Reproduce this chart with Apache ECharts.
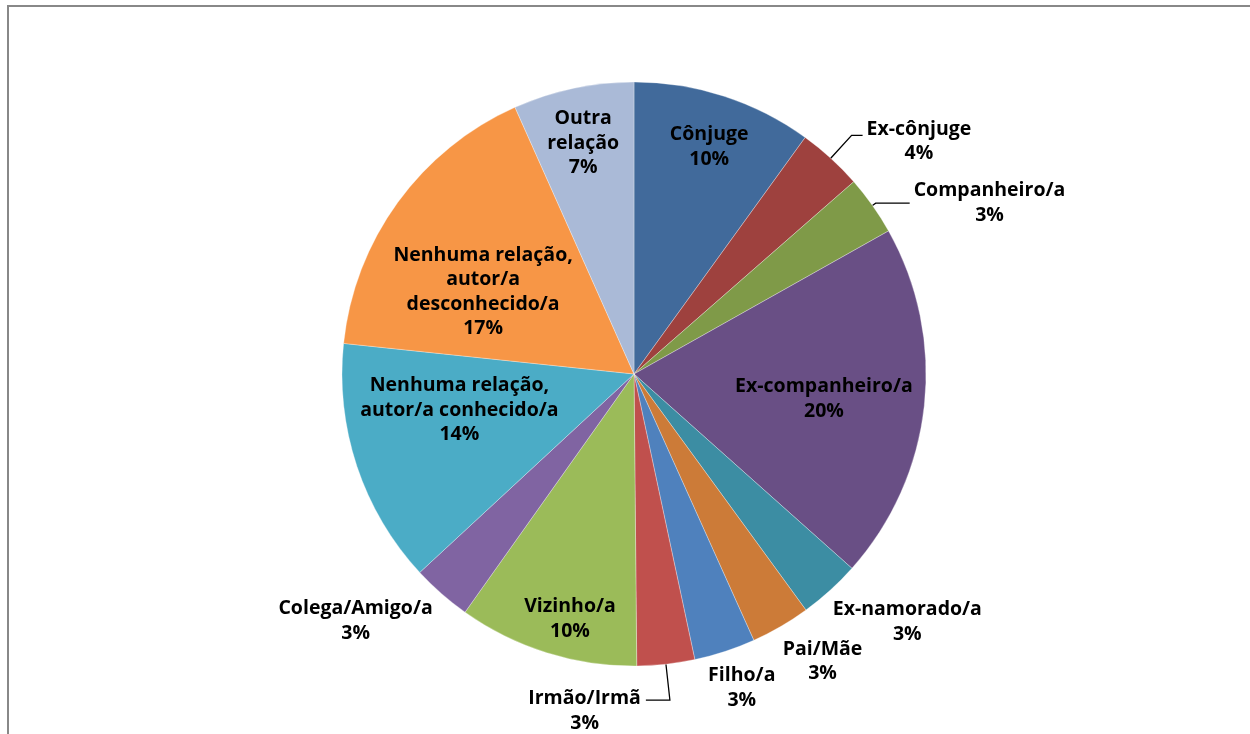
<!DOCTYPE html>
<html>
<head>
<meta charset="utf-8">
<title>Relação com o autor/a</title>
<script src="https://cdn.jsdelivr.net/npm/echarts@6/dist/echarts.min.js"></script>
<style>
  html, body { margin: 0; padding: 0; background: #fff; }
  #relacaoChart { width: 1250px; height: 734px; }
</style>
</head>
<body>
<div id="relacaoChart"></div>
<script>
// categorias, na ordem do gráfico (sentido horário a partir das 12h)
var categorias = ['Cônjuge', 'Ex-cônjuge', 'Companheiro/a', 'Ex-companheiro/a', 'Ex-namorado/a', 'Pai/Mãe', 'Filho/a', 'Irmão/Irmã', 'Vizinho/a', 'Colega/Amigo/a', 'Nenhuma relação,\nautor/a conhecido/a', 'Nenhuma relação,\nautor/a\ndesconhecido/a', 'Outra\nrelação']
// percentagens
var percentagens = [10.0, 3.6, 3.3, 19.8, 3.4, 3.3, 3.4, 3.2, 10.0, 3.3, 13.6, 16.7, 6.7]

var cores = ['#416a9b', '#9e413e', '#7f9a48', '#694f85', '#3c8da3', '#cc7b38', '#4f81bd', '#c0504d', '#9bbb59', '#8064a2', '#4bacc6', '#f79646', '#aabad7']
// onde fica cada rótulo: fora da fatia, dentro perto da borda, ou dentro mais ao centro
var posicaoRotulo = ['borda', 'fora', 'fora', 'meio', 'fora', 'fora', 'fora', 'fora', 'borda', 'fora', 'meio', 'meio', 'borda']
// linhas de chamada dos rótulos de fora (espelhar = linha e texto para o lado esquerdo)
var linhasRotulo = {
  'Ex-cônjuge':     {mostrar: true,  l1: 31, l2: 11},
  'Companheiro/a':  {mostrar: true,  l1: 4,  l2: 34},
  'Ex-namorado/a':  {mostrar: false, l1: 4,  l2: 0},
  'Pai/Mãe':        {mostrar: false, l1: 4,  l2: 0},
  'Filho/a':        {mostrar: false, l1: 4,  l2: 0},
  'Irmão/Irmã':     {mostrar: true,  l1: 36, l2: 24, espelhar: true},
  'Colega/Amigo/a': {mostrar: false, l1: 4,  l2: 0}
}
// pequenos acertos manuais dos rótulos, como no original [dx, dy]
var ajusteRotulo = {
  'Cônjuge': [0, 5],
  'Ex-cônjuge': [0, 6],
  'Ex-companheiro/a': [7, 5],
  'Ex-namorado/a': [0, 4],
  'Pai/Mãe': [0, 7],
  'Filho/a': [-18, 8],
  'Irmão/Irmã': [0, 11],
  'Colega/Amigo/a': [-6, 0],
  'Vizinho/a': [9, 12],
  'Nenhuma relação,\nautor/a conhecido/a': [0, -22],
  'Nenhuma relação,\nautor/a\ndesconhecido/a': [-2, 26],
  'Outra\nrelação': [0, 8]
}

var centro = [634, 374]
var raio = 292
var fonte = {fontFamily: 'Open Sans', fontWeight: 'bold', fontSize: 19.5, lineHeight: 24.5, color: '#000'}

function textoRotulo (p) {
  return p.name + '\n' + Math.round(p.percent) + '%'
}

// rótulo de fora: cada linha centrada
function textoRotuloFora (p) {
  return textoRotulo(p).split('\n').map(function (linha) {
    return '{c|' + linha + '}'
  }).join('\n')
}

function layoutRotulo (p) {
  var nome = categorias[p.dataIndex]
  var r = p.labelRect
  var aj = ajusteRotulo[nome] || [0, 0]
  var meioX = r.x + r.width / 2
  var meioY = r.y + r.height / 2

  if (posicaoRotulo[p.dataIndex] !== 'fora') {
    return {x: meioX + aj[0], y: meioY + aj[1], align: 'center', verticalAlign: 'middle', hideOverlap: false}
  }

  var linha = linhasRotulo[nome]
  var pts = p.labelLinePoints
  if (linha.espelhar && pts) {
    var fim = [2 * pts[1][0] - pts[2][0], pts[2][1]]
    return {
      x: fim[0] - 5 + aj[0], y: meioY + aj[1],
      align: 'right', verticalAlign: 'middle', hideOverlap: false,
      labelLinePoints: [pts[0].slice(), pts[1].slice(), fim]
    }
  }

  var x = p.align === 'right' ? r.x + r.width : r.x
  if (linha.mostrar) {
    return {
      x: x + aj[0], y: meioY + aj[1],
      align: p.align, verticalAlign: 'middle', hideOverlap: false,
      labelLinePoints: pts && pts.map(function (q) { return q.slice() })
    }
  }
  // sem linha: a caixa do texto fica por baixo do ponto da borda
  return {x: x + aj[0], y: meioY + aj[1], align: p.align, verticalAlign: 'top', hideOverlap: false}
}

function dadosPrincipal () {
  return categorias.map(function (nome, i) {
    var linha = linhasRotulo[nome] || {mostrar: false, l1: 10, l2: 10}
    return {
      name: nome,
      value: percentagens[i],
      itemStyle: {color: cores[i]},
      label: {show: posicaoRotulo[i] === 'fora', distanceToLabelLine: linha.mostrar ? 4 : 0},
      labelLine: {show: linha.mostrar, length: linha.l1, length2: linha.l2}
    }
  })
}

// série transparente só para colocar os rótulos de dentro a uma certa distância do centro
function serieRotulos (tipo, raios) {
  return {
    type: 'pie',
    silent: true,
    center: centro,
    radius: raios,
    startAngle: 90,
    clockwise: true,
    avoidLabelOverlap: false,
    itemStyle: {color: 'rgba(0,0,0,0)', borderWidth: 0},
    label: Object.assign({position: 'inside', formatter: textoRotulo}, fonte),
    labelLine: {show: false},
    labelLayout: layoutRotulo,
    emphasis: {disabled: true},
    data: categorias.map(function (nome, i) {
      return {name: nome, value: percentagens[i], label: {show: posicaoRotulo[i] === tipo}}
    })
  }
}

var chart = echarts.init(document.getElementById('relacaoChart'))
chart.setOption({
  animation: false,
  backgroundColor: '#fff',
  graphic: [{
    type: 'rect',
    silent: true,
    shape: {x: 8, y: 6, width: 1400, height: 900},
    style: {fill: 'none', stroke: '#888', lineWidth: 2}
  }],
  series: [
    {
      type: 'pie',
      center: centro,
      radius: raio,
      startAngle: 90,
      clockwise: true,
      avoidLabelOverlap: false,
      itemStyle: {borderColor: 'rgba(255,255,255,0.5)', borderWidth: 0.6},
      label: {
        position: 'outside',
        formatter: textoRotuloFora,
        rich: {c: Object.assign({align: 'center'}, fonte)}
      },
      labelLine: {lineStyle: {color: '#000', width: 1.3}},
      labelLayout: layoutRotulo,
      emphasis: {disabled: true},
      data: dadosPrincipal()
    },
    serieRotulos('borda', [190, raio]),
    serieRotulos('meio', [90, 272])
  ]
})
</script>
</body>
</html>
